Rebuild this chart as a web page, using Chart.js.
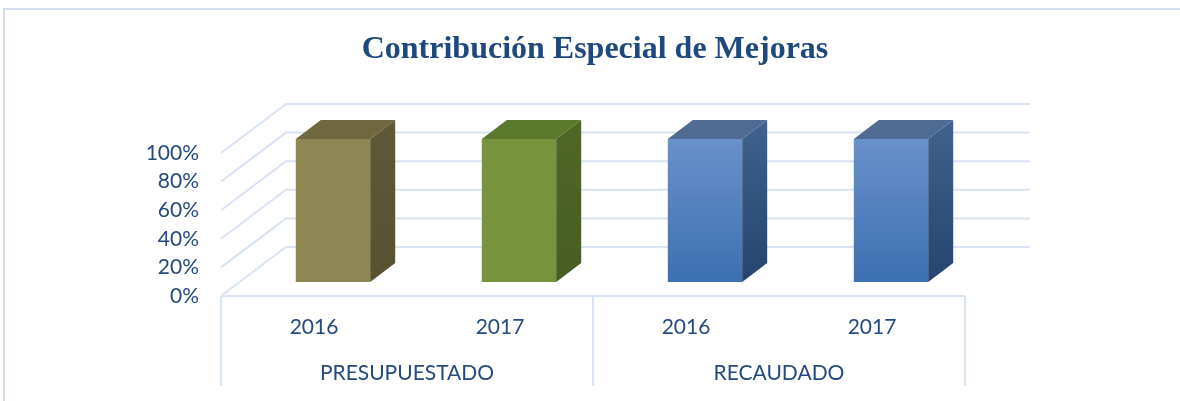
<!DOCTYPE html>
<html><head><meta charset="utf-8">
<script src="https://cdn.jsdelivr.net/npm/chart.js@4.4.1/dist/chart.umd.min.js"></script>
<style>html,body{margin:0;padding:0;background:#fff;overflow:hidden}canvas{display:block}</style>
</head><body>
<canvas id="c" width="1180" height="401"></canvas>
<script>
// ---- data ----
const chartTitle = 'Contribución Especial de Mejoras';
const years = ['2016', '2017', '2016', '2017'];
const groups = ['PRESUPUESTADO', 'RECAUDADO'];
const values = [1.0, 1.0, 1.0, 1.0];
const yTicks = [0, 0.2, 0.4, 0.6, 0.8, 1.0];

// ---- styles ----
const DEPTH_FRONT = {dx: -19, dy: 14};
const DEPTH_BACK = {dx: 46, dy: -35};
const BAR_DEPTH = {dx: 25, dy: -19};
const textColor = '#264A7E';
const gridColor = '#D8E4F3';
const palette = {
  front: ['#8F8753', '#77933C', ['#6991CA', '#3C70B2'], ['#6991CA', '#3C70B2']],
  top: ['#6E6740', '#5B7A2C', '#4F6B93', '#4F6B93'],
  side: [['#605937', '#58512F'], ['#4F6727', '#475D22'], ['#41618E', '#254570'], ['#41618E', '#254570']]
};

const threeD = {
  id: 'threeD',
  beforeDraw(chart) {
    const ctx = chart.ctx;
    ctx.save();
    ctx.strokeStyle = '#D3DFEF';
    ctx.lineWidth = 2;
    ctx.strokeRect(4, 9, 1260, 460);
    ctx.restore();
  },
  beforeDatasetsDraw(chart) {
    const {ctx, scales: {x, y}} = chart;
    const fl = x.left + DEPTH_FRONT.dx, fr = x.right + DEPTH_FRONT.dx;
    const bl = x.left + DEPTH_BACK.dx, br = x.right + DEPTH_BACK.dx;
    ctx.save();
    ctx.strokeStyle = gridColor;
    ctx.lineWidth = 2;
    ctx.beginPath();
    yTicks.forEach(v => {
      const py = y.getPixelForValue(v);
      ctx.moveTo(fl, py + DEPTH_FRONT.dy);
      ctx.lineTo(bl, py + DEPTH_BACK.dy);
      ctx.lineTo(br, py + DEPTH_BACK.dy);
    });
    const p0 = y.getPixelForValue(0) + DEPTH_FRONT.dy;
    ctx.moveTo(fl, p0); ctx.lineTo(fr, p0);
    [x.left, x.getPixelForValue(1.5), x.right].forEach(px => {
      ctx.moveTo(px + DEPTH_FRONT.dx, p0);
      ctx.lineTo(px + DEPTH_FRONT.dx, chart.height - 15);
    });
    ctx.stroke();
    ctx.restore();
  },
  afterDatasetsDraw(chart) {
    const ctx = chart.ctx;
    const meta = chart.getDatasetMeta(0);
    const {dx, dy} = BAR_DEPTH;
    meta.data.forEach((bar, i) => {
      const {x: cx, y: top, base, width} = bar.getProps(['x', 'y', 'base', 'width'], true);
      const l = cx - width / 2, r = cx + width / 2;
      ctx.save();
      ctx.fillStyle = palette.top[i];
      ctx.beginPath();
      ctx.moveTo(l, top); ctx.lineTo(l + dx, top + dy); ctx.lineTo(r + dx, top + dy); ctx.lineTo(r, top);
      ctx.closePath(); ctx.fill();
      const g = ctx.createLinearGradient(0, top + dy, 0, base);
      g.addColorStop(0, palette.side[i][0]); g.addColorStop(1, palette.side[i][1]);
      ctx.fillStyle = g;
      ctx.beginPath();
      ctx.moveTo(r, top); ctx.lineTo(r + dx, top + dy); ctx.lineTo(r + dx, base + dy); ctx.lineTo(r, base);
      ctx.closePath(); ctx.fill();
      ctx.restore();
    });
  }
};

const tickFont = {family: 'Lato, "Open Sans", sans-serif', size: 21};

new Chart(document.getElementById('c'), {
  type: 'bar',
  data: {
    labels: years,
    datasets: [{
      data: values,
      borderWidth: 0,
      barPercentage: 0.4,
      categoryPercentage: 1.0,
      backgroundColor(ctx) {
        const c = palette.front[ctx.dataIndex];
        if (Array.isArray(c)) {
          const ca = ctx.chart.chartArea;
          if (!ca) return c[0];
          const g = ctx.chart.ctx.createLinearGradient(0, ca.top, 0, ca.bottom);
          g.addColorStop(0, c[0]); g.addColorStop(1, c[1]);
          return g;
        }
        return c;
      }
    }]
  },
  options: {
    responsive: false,
    animation: false,
    layout: {padding: {left: 10, right: 0, top: 0, bottom: 0}},
    plugins: {
      legend: {display: false},
      tooltip: {enabled: false},
      title: {
        display: true,
        text: chartTitle,
        color: '#1F497D',
        font: {family: '"Liberation Serif", "Times New Roman", serif', size: 32, weight: 'bold'},
        padding: {top: 31, bottom: 69.6}
      }
    },
    scales: {
      x: {
        weight: 1,
        offset: true,
        grid: {display: false, drawTicks: false},
        border: {display: false},
        ticks: {color: textColor, font: tickFont, padding: 33, labelOffset: -19, maxRotation: 0},
        afterFit(s) { s.height = 70; }
      },
      x2: {
        type: 'category',
        labels: groups,
        position: 'bottom',
        weight: 2,
        offset: true,
        grid: {display: false, drawTicks: false},
        border: {display: false},
        ticks: {color: textColor, font: tickFont, padding: 9, labelOffset: -19, maxRotation: 0},
        afterFit(s) { s.height = 49; }
      },
      y: {
        min: 0, max: 1,
        afterBuildTicks(s) { s.ticks = yTicks.map(v => ({value: v})); },
        grid: {display: false, drawTicks: false},
        border: {display: false},
        ticks: {color: textColor, font: tickFont, padding: 41, labelOffset: 14,
          callback: v => Math.round(v * 100) + '%'},
        afterFit(s) { s.width = 230; }
      },
      yR: {
        position: 'right',
        grid: {display: false, drawTicks: false},
        border: {display: false},
        ticks: {display: false},
        afterFit(s) { s.width = 196; }
      }
    }
  },
  plugins: [threeD]
});
</script>
</body></html>
